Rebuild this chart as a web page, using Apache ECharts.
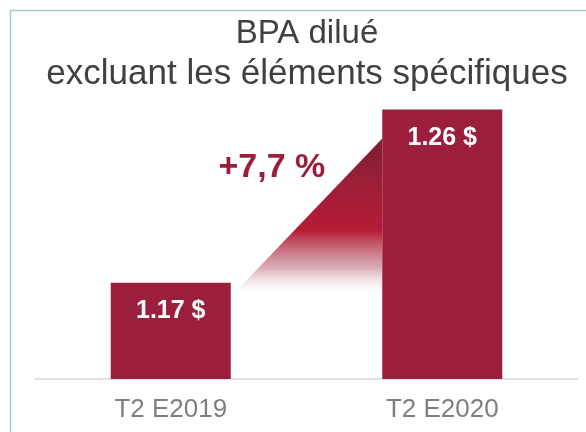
<!DOCTYPE html>
<html>
<head>
<meta charset="utf-8">
<script src="https://cdn.jsdelivr.net/npm/echarts@6/dist/echarts.min.js"></script>
<style>
html,body{margin:0;padding:0;background:#fff;}
#chart{width:586px;height:432px;}
</style>
</head>
<body>
<div id="chart"></div>
<script>
const titleLines = ['BPA dilué', 'excluant les éléments spécifiques'];
const categories = ['T2 E2019', 'T2 E2020'];
const values = [1.17, 1.26];
const changeLabel = '+7,7 %';

const FONT = 'Liberation Sans, Arial, Helvetica, sans-serif';
const BAR_COLOR = '#9b1f3c';
const BAR_W = 120;

const chart = echarts.init(document.getElementById('chart'), null, {renderer: 'canvas'});

const option = {
  animation: false,
  backgroundColor: '#ffffff',
  title: {
    text: '{a|' + titleLines[0] + '}\n{b|' + titleLines[1] + '}',
    left: 307,
    top: 13,
    textAlign: 'center',
    padding: 0,
    textStyle: {
      fontFamily: FONT,
      fontSize: 33,
      fontWeight: 'normal',
      color: '#404040',
      lineHeight: 41,
      rich: {
        a: {fontFamily: FONT, fontSize: 33, color: '#404040', lineHeight: 41},
        b: {fontFamily: FONT, fontSize: 35, color: '#404040', lineHeight: 41}
      }
    }
  },
  graphic: [{
    type: 'rect',
    silent: true,
    z: -1,
    shape: {x: 10.5, y: 10.5, width: 700, height: 500},
    style: {fill: null, stroke: '#a9cad8', lineWidth: 1.5}
  }],
  grid: {left: 35, right: 8, top: 71, bottom: 53},
  xAxis: {
    type: 'category',
    data: categories,
    axisLine: {show: true, lineStyle: {color: '#d9d9d9', width: 1.5}},
    axisTick: {show: false},
    axisLabel: {
      margin: 18,
      fontFamily: FONT,
      fontSize: 26,
      color: '#7f7f7f'
    }
  },
  yAxis: {
    type: 'value',
    min: 1.12,
    max: 1.28,
    show: false,
    splitLine: {show: false}
  },
  series: [{
    type: 'bar',
    data: values,
    barWidth: BAR_W,
    itemStyle: {color: BAR_COLOR},
    z: 3,
    label: {
      show: true,
      position: 'insideTop',
      distance: 16,
      formatter: p => p.value.toFixed(2) + ' $',
      fontFamily: FONT,
      fontSize: 25,
      fontWeight: 'bold',
      color: '#ffffff'
    }
  }, {
    type: 'custom',
    coordinateSystem: 'cartesian2d',
    z: 2,
    silent: true,
    data: [[0, values[0], 1, values[1]]],
    renderItem: function (params, api) {
      const a = api.coord([api.value(0), api.value(1)]);
      const b = api.coord([api.value(2), api.value(3)]);
      const half = BAR_W / 2;
      const x1 = a[0] + half, y1 = a[1] + 14;
      const x2 = b[0] - half, y2 = b[1] + 29;
      const y3 = y1;
      return {
        type: 'group',
        children: [{
          type: 'polygon',
          shape: {points: [[x1, y1], [x2, y2], [x2, y3]]},
          style: {
            fill: new echarts.graphic.LinearGradient(0, 0, 0, 1, [
              {offset: 0, color: '#7b1f33'},
              {offset: 0.3, color: '#9e1e38'},
              {offset: 0.58, color: '#b71b36'},
              {offset: 0.82, color: 'rgba(200,140,152,0.7)'},
              {offset: 1, color: 'rgba(255,255,255,0)'}
            ])
          }
        }, {
          type: 'text',
          style: {
            text: changeLabel,
            x: x2 - 57,
            y: b[1] + 58,
            align: 'right',
            verticalAlign: 'middle',
            fontFamily: FONT,
            fontSize: 34,
            fontWeight: 'bold',
            fill: '#9b1f3c'
          }
        }]
      };
    }
  }]
};

chart.setOption(option);
</script>
</body>
</html>
